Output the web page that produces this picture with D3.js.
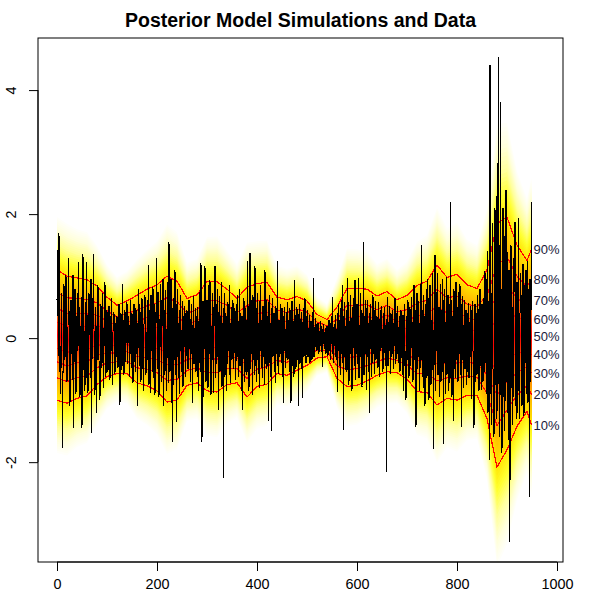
<!DOCTYPE html>
<html>
<head>
<meta charset="utf-8">
<script src="https://cdn.jsdelivr.net/npm/d3@7"></script>
<style>
  body { margin: 0; background: #fff; }
  svg text { font-family: Arial, "Liberation Sans", sans-serif; }
</style>
</head>
<body>
<div id="chart"></div>
<script>
////////////////////////////////////////////////////////////////////////
// Data

// time points where the posterior quantiles were read
let knots = [0,20,40,60,80,100,120,140,160,180,200,220,240,260,280,300,320,340,360,380,
  400,420,440,460,480,500,520,540,560,580,600,620,640,660,680,700,720,740,760,780,
  800,820,840,860,880,900,920,940,949];

// posterior quantiles (outer fan edge, deciles, outer fan edge)
let q01 = [-1.89,-1.93,-1.79,-1.72,-1.43,-1.16,-1.04,-1.07,-1.32,-1.43,-1.58,-1.90,-1.82,-1.36,-1.32,-1.60,-1.63,-1.40,-1.30,-1.71,
  -1.49,-1.44,-1.09,-1.12,-1.03,-0.88,-0.62,-0.56,-1.14,-1.45,-1.42,-1.32,-1.14,-1.08,-1.06,-1.23,-1.59,-1.65,-2.04,-1.80,
  -1.87,-1.68,-1.65,-2.32,-3.75,-3.39,-2.66,-2.21,-2.60];
let q10 = [-1.00,-1.05,-0.97,-0.93,-0.75,-0.62,-0.57,-0.57,-0.72,-0.77,-0.85,-1.03,-1.00,-0.76,-0.72,-0.85,-0.87,-0.75,-0.72,-0.95,
  -0.78,-0.74,-0.57,-0.60,-0.52,-0.44,-0.32,-0.30,-0.65,-0.78,-0.76,-0.69,-0.60,-0.54,-0.56,-0.66,-0.86,-0.88,-1.08,-0.97,
  -1.00,-0.92,-0.92,-1.30,-2.08,-1.80,-1.42,-1.18,-1.40];
let q20 = [-0.64,-0.70,-0.64,-0.61,-0.48,-0.40,-0.38,-0.37,-0.48,-0.50,-0.56,-0.68,-0.67,-0.52,-0.48,-0.55,-0.56,-0.49,-0.49,-0.65,
  -0.50,-0.46,-0.36,-0.39,-0.32,-0.26,-0.20,-0.20,-0.45,-0.51,-0.49,-0.44,-0.38,-0.32,-0.36,-0.43,-0.57,-0.57,-0.69,-0.64,
  -0.65,-0.61,-0.63,-0.89,-1.41,-1.16,-0.92,-0.76,-0.91];
let q30 = [-0.38,-0.45,-0.40,-0.38,-0.28,-0.24,-0.24,-0.22,-0.30,-0.31,-0.35,-0.43,-0.43,-0.35,-0.30,-0.33,-0.34,-0.29,-0.32,-0.43,
  -0.29,-0.26,-0.21,-0.24,-0.17,-0.13,-0.11,-0.12,-0.31,-0.31,-0.30,-0.25,-0.22,-0.16,-0.21,-0.26,-0.36,-0.35,-0.41,-0.40,
  -0.40,-0.39,-0.41,-0.59,-0.92,-0.69,-0.56,-0.46,-0.57];
let q40 = [-0.16,-0.23,-0.19,-0.18,-0.11,-0.11,-0.13,-0.10,-0.16,-0.14,-0.17,-0.22,-0.23,-0.20,-0.15,-0.14,-0.16,-0.13,-0.17,-0.25,
  -0.11,-0.08,-0.08,-0.11,-0.04,-0.02,-0.04,-0.06,-0.19,-0.15,-0.13,-0.10,-0.09,-0.02,-0.09,-0.12,-0.18,-0.16,-0.17,-0.19,
  -0.19,-0.21,-0.23,-0.34,-0.50,-0.30,-0.25,-0.21,-0.27];
let q50 = [0.05,-0.03,0.00,0.00,0.05,0.02,-0.02,0.02,-0.02,0.01,0.00,-0.02,-0.04,-0.06,-0.01,0.03,0.02,0.02,-0.04,-0.07,
  0.05,0.08,0.05,0.01,0.08,0.08,0.03,0.00,-0.08,0.01,0.02,0.05,0.04,0.11,0.03,0.02,0.00,0.02,0.05,0.01,
  0.02,-0.03,-0.06,-0.10,-0.12,0.08,0.04,0.04,0.02];
let q60 = [0.26,0.18,0.19,0.19,0.20,0.15,0.09,0.13,0.13,0.16,0.17,0.19,0.15,0.08,0.13,0.20,0.20,0.17,0.09,0.11,
  0.21,0.24,0.17,0.13,0.19,0.18,0.10,0.06,0.04,0.17,0.17,0.20,0.17,0.24,0.15,0.15,0.17,0.20,0.27,0.20,
  0.22,0.15,0.11,0.14,0.27,0.45,0.33,0.28,0.30];
let q70 = [0.48,0.40,0.40,0.39,0.37,0.28,0.20,0.26,0.27,0.33,0.36,0.40,0.35,0.23,0.28,0.39,0.38,0.33,0.24,0.30,
  0.39,0.42,0.30,0.26,0.32,0.29,0.17,0.12,0.16,0.33,0.34,0.35,0.30,0.37,0.27,0.29,0.35,0.39,0.51,0.41,
  0.44,0.33,0.29,0.39,0.69,0.84,0.64,0.53,0.60];
let q80 = [0.74,0.65,0.64,0.62,0.57,0.44,0.34,0.40,0.45,0.52,0.57,0.65,0.59,0.40,0.46,0.61,0.60,0.53,0.41,0.52,
  0.60,0.62,0.45,0.41,0.47,0.42,0.26,0.20,0.30,0.53,0.53,0.54,0.46,0.53,0.42,0.46,0.56,0.61,0.79,0.65,
  0.68,0.55,0.51,0.69,1.18,1.31,1.00,0.83,0.94];
let q90 = [1.10,1.00,0.97,0.94,0.84,0.66,0.53,0.60,0.69,0.79,0.86,1.00,0.92,0.64,0.70,0.91,0.91,0.79,0.64,0.82,
  0.88,0.90,0.66,0.62,0.67,0.60,0.38,0.30,0.50,0.80,0.80,0.79,0.68,0.75,0.62,0.69,0.85,0.92,1.18,0.98,
  1.03,0.86,0.80,1.10,1.85,1.95,1.50,1.25,1.43];
let q99 = [1.99,1.88,1.79,1.74,1.52,1.20,1.00,1.10,1.29,1.45,1.59,1.87,1.74,1.24,1.30,1.66,1.67,1.44,1.22,1.57,
  1.59,1.60,1.19,1.14,1.18,1.04,0.68,0.56,0.99,1.47,1.46,1.42,1.22,1.30,1.12,1.26,1.58,1.69,2.14,1.81,
  1.90,1.62,1.53,2.12,3.52,3.54,2.74,2.29,2.64];

let decileLabels = ["10%","20%","30%","40%","50%","60%","70%","80%","90%"];

// observed data, one value per time step (20 per row)
let obs = [
  0.62,1.42,0.35,-0.28,1.69,0.40,-0.55,-0.90,-0.15,0.72,-0.48,-1.77,-0.60,0.25,0.88,0.10,-0.35,0.55,1.02,0.20,
  -0.70,-0.30,0.15,1.29,0.48,-0.60,-1.10,0.05,0.62,0.30,-0.25,-0.68,1.02,-1.45,-0.40,0.22,0.80,0.45,-0.90,-0.12,
  0.35,0.72,-0.20,1.23,0.55,-0.62,-0.95,-0.30,0.18,0.66,-1.45,-0.40,1.35,0.28,-0.52,-0.85,0.10,0.58,-0.75,1.23,
  0.40,-0.48,-0.88,-0.20,0.72,0.30,0.05,-0.65,0.95,-1.53,-0.35,0.20,0.62,1.35,0.15,-0.55,-0.92,0.50,0.25,-1.21,
  -0.40,0.60,0.85,0.12,-0.35,-0.70,-1.00,0.30,0.55,-0.25,-0.48,0.72,0.20,-0.80,-0.15,0.28,0.90,-0.40,-0.62,0.35,
  0.45,-0.30,-0.55,0.08,0.52,0.20,-0.68,-0.15,0.35,0.64,-0.20,-0.75,0.10,0.38,0.42,-0.40,-0.58,0.25,0.05,-0.30,
  0.35,0.12,-0.48,-0.25,0.55,0.30,-1.08,-0.15,0.40,-0.05,-0.52,0.88,0.32,-0.20,-0.60,0.18,0.45,-0.38,-0.10,0.22,
  0.58,-0.42,-0.10,0.35,0.25,-0.62,-0.30,0.62,0.15,-0.48,0.40,0.05,-0.72,-0.20,0.55,0.30,-0.38,-0.55,0.48,-0.25,
  0.30,-1.10,-0.20,0.80,0.60,-0.45,0.10,0.42,-0.70,-0.28,0.65,0.15,-0.50,-0.85,0.22,0.55,0.70,-0.32,-0.60,0.10,
  -0.40,0.62,0.25,1.18,-0.75,-0.30,0.45,-0.88,0.70,0.35,-0.20,-0.55,0.82,0.10,-0.65,0.55,-0.92,-0.18,0.40,1.29,
  0.25,-0.50,0.75,0.50,-0.95,-0.42,0.30,0.88,-0.15,-0.70,0.62,0.20,0.95,-1.10,-0.30,0.45,-0.60,0.78,0.20,-0.85,
  -0.40,0.90,0.38,-0.72,1.55,0.70,-0.55,-0.25,0.95,-1.05,0.48,-1.67,-0.80,0.30,0.65,-0.35,1.10,0.20,-0.60,-1.35,
  0.55,0.80,-0.30,-0.65,0.25,-0.90,0.45,0.70,-0.20,-0.55,0.12,0.60,-0.78,-0.40,0.35,0.52,-0.15,-0.62,0.40,-0.28,
  0.45,0.22,-0.50,-0.35,0.62,0.40,-0.18,-0.70,0.30,0.55,-0.25,-1.05,0.20,0.68,-0.42,-0.30,0.15,0.48,-0.55,-0.20,
  0.35,0.50,-0.62,-0.85,0.28,0.75,-0.40,-0.55,1.21,0.42,-1.67,-0.30,0.60,-0.95,-0.20,0.38,1.16,0.25,-0.70,-0.45,
  0.62,0.30,-0.80,-0.48,0.85,-0.25,0.94,0.40,-0.92,-0.60,0.18,0.72,-0.35,-0.88,0.50,0.20,1.16,-0.65,-0.45,0.28,
  0.55,0.80,-0.30,-1.16,0.42,0.68,-0.55,-0.20,0.35,0.90,-0.78,-0.40,0.25,-2.26,0.48,0.72,-0.62,-0.15,0.40,-0.85,
  -0.45,0.30,0.58,-0.20,0.40,0.86,-0.60,-0.72,0.25,0.50,-0.35,0.15,0.62,-0.50,-0.25,0.30,0.48,-0.68,-0.40,0.20,
  0.55,0.70,-0.30,-0.62,0.28,0.80,-0.45,-0.20,0.40,-0.85,0.35,-1.16,-0.38,0.50,0.65,-0.70,0.22,0.48,-0.55,0.30,
  -0.60,1.24,0.55,-0.40,-0.85,0.30,1.37,-0.50,0.62,0.40,-0.25,-0.92,0.70,0.18,-0.35,-0.60,1.16,0.30,-0.45,-0.70,
  0.48,0.72,-0.35,-0.58,0.25,-0.80,0.60,0.85,-0.20,-0.48,0.30,-0.65,0.52,0.40,-0.30,-0.75,1.10,0.20,-0.42,0.62,
  -0.50,0.35,-0.20,-1.33,0.58,0.70,-0.40,-0.62,0.25,-1.49,0.48,0.65,-0.30,-0.15,0.40,0.30,-0.55,-0.72,0.52,-0.25,
  0.40,1.24,-0.45,-0.58,0.30,0.22,-0.30,0.55,0.18,-0.40,0.48,-0.62,-0.25,-1.05,0.35,0.50,-0.20,-0.48,0.15,-0.32,
  0.42,0.58,-0.35,-0.20,0.30,-0.55,0.48,-0.28,-1.05,0.35,0.60,-0.45,-0.15,0.28,-0.62,0.94,0.40,-0.30,-0.50,0.20,
  0.50,-0.35,-0.25,-1.10,0.38,0.55,-0.42,-0.18,0.30,0.42,-0.50,-0.97,0.25,0.48,-0.30,-0.15,0.64,0.22,-0.40,-0.28,
  0.35,0.45,-0.30,-0.22,0.15,0.38,-0.40,-0.18,0.28,0.20,-0.35,-0.12,0.42,0.97,-0.30,-0.25,0.18,0.32,-0.15,0.22,
  -0.20,-0.10,0.25,0.18,-0.25,0.12,-0.15,0.28,0.20,-0.08,-0.22,-0.46,0.15,0.22,-0.10,-0.18,0.10,0.16,-0.25,-0.05,
  0.20,0.12,-0.28,-0.15,0.30,-0.20,0.08,-0.35,0.25,-0.10,0.35,0.67,-0.25,-0.40,0.18,0.22,-0.12,0.38,-0.30,0.15,
  -0.35,-0.87,0.40,0.55,-0.20,-0.45,0.30,-0.60,0.48,0.62,-0.25,0.85,-0.40,-1.48,0.35,0.58,-0.30,-0.52,0.20,0.45,
  -0.55,0.97,0.62,-0.40,-0.75,0.28,-0.30,0.70,0.35,-0.58,-0.85,0.50,-0.20,0.65,0.25,-0.45,0.94,-0.68,-0.30,0.40,
  0.55,0.30,-0.42,0.97,-0.65,-0.50,0.20,0.72,-0.30,0.45,-0.78,-0.22,0.38,1.55,-0.60,-0.45,0.35,0.62,-0.25,-0.83,
  0.48,0.62,-0.30,-0.55,0.25,-1.21,0.40,0.55,-0.18,-0.62,0.30,-0.40,0.70,0.18,-0.25,-0.58,0.45,0.60,-0.35,-0.20,
  0.35,0.22,-0.48,0.59,-0.40,-0.62,0.30,0.45,-0.20,0.52,0.18,-0.35,-0.55,0.40,-0.28,0.50,0.25,-0.45,-0.30,-2.16,
  0.30,0.67,-0.45,-0.35,0.25,0.52,-0.20,-0.58,0.40,0.15,-0.30,0.45,0.28,-0.50,-0.15,0.35,0.64,-0.42,-0.35,0.20,
  0.40,0.52,-0.25,-0.40,0.18,0.35,-0.55,-0.20,0.45,0.25,-0.32,-0.60,0.38,-0.85,0.30,0.55,-0.45,-0.20,-1.00,0.35,
  -0.40,0.55,0.62,-0.30,-0.65,0.25,0.50,-0.45,-0.20,0.67,0.30,-0.55,-0.70,0.40,0.85,-0.35,0.45,-0.60,-1.43,0.38,
  0.72,-0.50,-0.35,0.60,0.30,-0.85,-0.55,0.88,-0.40,1.50,0.45,-0.62,-0.25,0.70,-0.80,0.35,-1.10,-0.30,0.55,0.80,
  -0.65,0.95,0.70,-0.40,-1.00,0.45,0.85,-0.30,-0.75,0.30,-0.55,1.05,0.20,-1.78,-0.45,0.60,1.34,-0.85,-0.25,0.40,
  0.75,1.05,-0.60,-0.35,0.50,-0.95,0.30,0.88,-0.70,-0.20,0.45,0.95,-0.55,-1.70,0.62,0.80,-0.40,-0.90,0.25,0.99,
  -0.60,0.45,0.70,-0.85,-0.30,0.55,-0.72,2.20,0.62,-0.40,-0.95,0.35,-0.20,-1.33,0.80,0.28,-0.50,-0.65,0.90,-0.35,
  0.50,0.35,-0.70,-0.45,0.75,-0.25,0.87,0.30,-0.60,-1.43,0.55,0.68,-0.35,-0.80,0.20,0.62,-0.50,-0.30,0.45,-0.75,
  0.40,0.30,-0.55,0.56,-0.65,-0.40,0.25,0.52,-0.30,-0.98,0.45,0.60,-0.20,-0.50,-1.45,0.35,0.55,-0.70,-0.25,0.40,
  -0.60,0.70,0.50,-0.35,-0.85,0.30,0.80,-0.45,-0.20,-0.83,0.55,0.40,-0.70,-0.30,0.65,-0.55,1.08,0.25,-0.40,-0.90,
  0.95,1.40,-1.20,-0.80,0.60,-1.97,4.40,1.60,-0.90,-1.40,0.70,1.85,-0.50,-1.10,-1.60,0.40,2.10,1.20,-0.75,2.30,
  -1.30,2.82,-0.90,4.54,1.50,-1.60,-1.20,3.81,0.80,-1.40,-1.85,1.20,2.10,-0.95,1.65,-1.50,-1.10,0.60,2.39,-0.70,
  1.40,0.85,-1.20,-1.65,1.10,-3.28,0.60,-2.29,1.50,1.25,-0.80,-1.40,0.50,-0.95,1.30,0.75,1.88,-1.10,-0.60,-1.30,
  0.90,-1.20,0.55,1.94,-0.85,-1.30,0.40,1.05,0.75,-0.60,-1.10,0.30,1.20,-0.70,-1.25,0.50,0.85,-0.40,1.10,-0.90,
  0.60,1.25,-1.05,-0.50,0.80,-2.56,0.95,-0.70,0.40,2.20
];

let xTicks = [0, 200, 400, 600, 800, 1000];
let yTicks = [-2, 0, 2, 4];

////////////////////////////////////////////////////////////////////////
// Layout and scales

let width = 600, height = 600;
let box = { left: 38, right: 563, top: 38, bottom: 562 };

let xScale = d3.scaleLinear().domain([-38, 1012]).range([box.left, box.right]);
let yScale = d3.scaleLinear().domain([-3.61, 4.84]).range([box.bottom, box.top]);

let svg = d3.select("#chart").append("svg")
  .attr("width", width)
  .attr("height", height);

svg.append("defs").append("clipPath").attr("id", "plotClip")
  .append("rect")
  .attr("x", box.left).attr("y", box.top)
  .attr("width", box.right - box.left).attr("height", box.bottom - box.top);

let plot = svg.append("g").attr("clip-path", "url(#plotClip)");

////////////////////////////////////////////////////////////////////////
// Fan: nested bands from the outer edge in to the median

let upperSide = [q50, q60, q70, q80, q90, q99];
let lowerSide = [q50, q40, q30, q20, q10, q01];

// position of level s (0 = median, 1 = outer edge) at knot i
function levelAt(side, s, i) {
  let f = s * (side.length - 1);
  let j = Math.min(Math.floor(f), side.length - 2);
  let t = f - j;
  return side[j][i] * (1 - t) + side[j + 1][i] * t;
}

let fanColor = d3.scaleLinear()
  .domain([0, 0.2, 0.4, 0.6, 0.8, 0.85, 0.9, 0.95, 1])
  .range(["#ff0000", "#ff3a00", "#ff7a00", "#ffae00", "#ffe400", "#ffff30", "#ffff9c", "#ffffdc", "#ffffff"]);

let steps = 120;
for (let n = steps; n >= 1; --n) {
  let s = n / steps;
  let area = d3.area()
    .x(function(d, i) { return xScale(knots[i]); })
    .y0(function(d, i) { return yScale(levelAt(lowerSide, s, i)); })
    .y1(function(d, i) { return yScale(levelAt(upperSide, s, i)); });
  plot.append("path")
    .attr("d", area(knots))
    .attr("fill", fanColor(s));
}

// decile lines (aliased, like the original device)
let deciles = [q10, q20, q30, q40, q50, q60, q70, q80, q90];
let quantLine = d3.line()
  .x(function(d, i) { return xScale(knots[i]); })
  .y(function(d) { return yScale(d); });

deciles.forEach(function(q) {
  plot.append("path")
    .attr("d", quantLine(q))
    .attr("fill", "none")
    .attr("stroke", "#ff0000")
    .attr("stroke-width", 1.2)
    .attr("shape-rendering", "crispEdges");
});

// observed series
let obsLine = d3.line()
  .x(function(d, i) { return xScale(i); })
  .y(function(d) { return yScale(d); });

plot.append("path")
  .attr("d", obsLine(obs))
  .attr("fill", "none")
  .attr("stroke", "#000")
  .attr("stroke-width", 1)
  .attr("shape-rendering", "crispEdges");

// decile labels at the end of the fan
let last = knots.length - 1;
deciles.forEach(function(q, k) {
  svg.append("text")
    .attr("x", xScale(knots[last]) + 2)
    .attr("y", yScale(q[last]))
    .attr("dy", "0.35em")
    .attr("font-size", 13)
    .attr("fill", "#1a1a3a")
    .text(decileLabels[k]);
});

////////////////////////////////////////////////////////////////////////
// Frame, axes and title

svg.append("rect")
  .attr("x", box.left).attr("y", box.top)
  .attr("width", box.right - box.left).attr("height", box.bottom - box.top)
  .attr("fill", "none").attr("stroke", "#000").attr("stroke-width", 1);

let xAxis = d3.axisBottom(xScale).tickValues(xTicks).tickSize(9).tickPadding(8)
  .tickFormat(d3.format("d"));
let gx = svg.append("g")
  .attr("transform", "translate(0," + box.bottom + ")")
  .call(xAxis);
gx.select(".domain").attr("d", "M" + xScale(0) + ",0H" + xScale(1000));
gx.selectAll("text").attr("font-size", 14.4).attr("fill", "#000")
  .style("font-family", "Arial, 'Liberation Sans', sans-serif");

let yAxis = d3.axisLeft(yScale).tickValues(yTicks).tickSize(9).tickFormat(d3.format("d"));
let gy = svg.append("g")
  .attr("transform", "translate(" + box.left + ",0)")
  .call(yAxis);
gy.select(".domain").attr("d", "M0," + yScale(-2) + "V" + yScale(4));
gy.selectAll("text").remove();
gy.selectAll(".tick").append("text")
  .attr("transform", "translate(-22,0) rotate(-90)")
  .attr("text-anchor", "middle")
  .attr("font-size", 14.4)
  .attr("fill", "#000")
  .text(function(d) { return d; });

svg.append("text")
  .attr("x", (box.left + box.right) / 2)
  .attr("y", 27)
  .attr("text-anchor", "middle")
  .attr("font-size", 19.5)
  .attr("font-weight", "bold")
  .text("Posterior Model Simulations and Data");
</script>
</body>
</html>
